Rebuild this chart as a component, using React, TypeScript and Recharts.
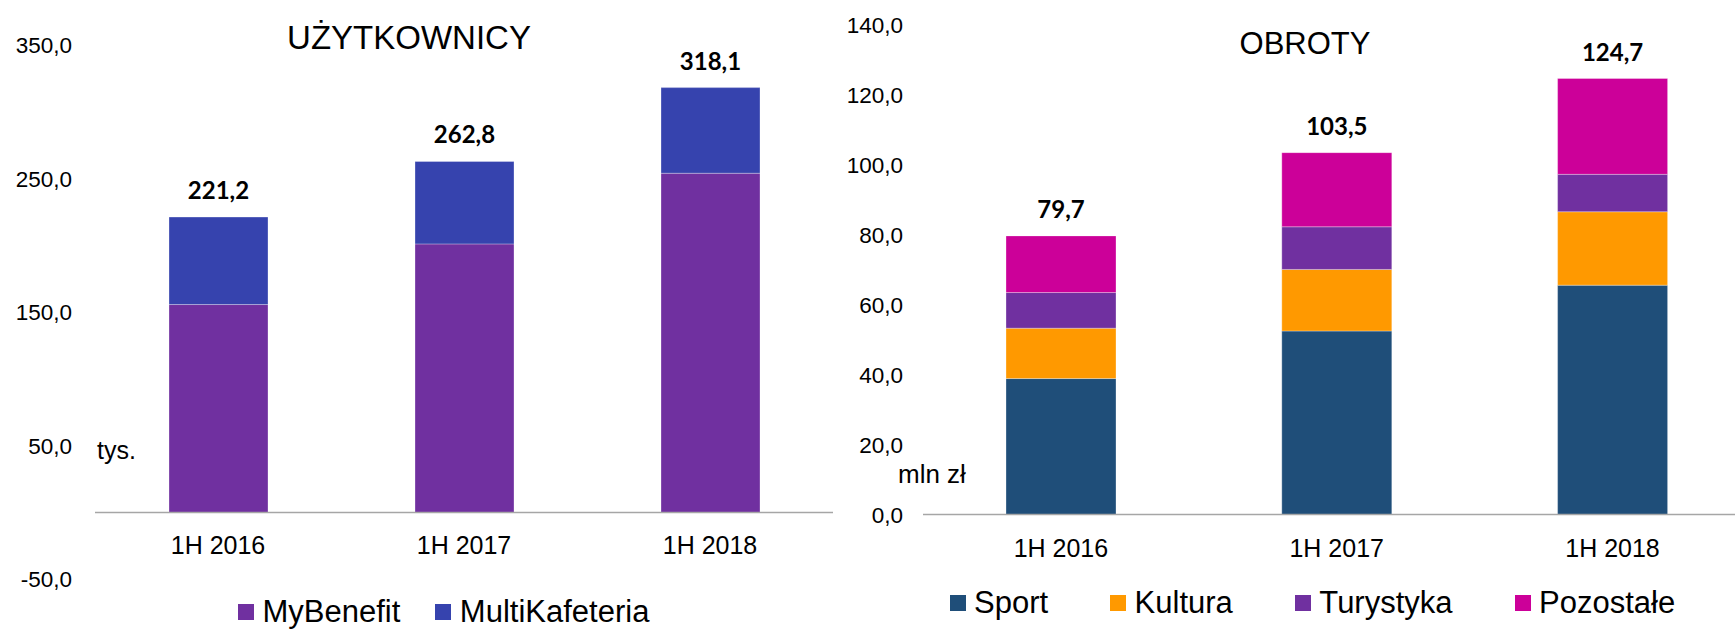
import React from 'react';
import { BarChart, Bar, XAxis, YAxis, ReferenceLine, LabelList, Legend } from 'recharts';

const categories = ['1H 2016', '1H 2017', '1H 2018'];

// Left chart: UŻYTKOWNICY (tys.)
const myBenefit = [155.7, 201.1, 254.0];
const multiKafeteria = [65.5, 61.7, 64.1];
const usersTotals = [221.2, 262.8, 318.1];
const usersTicks = [-50, 50, 150, 250, 350];

// Right chart: OBROTY (mln zł)
const sport = [38.9, 52.5, 65.6];
const kultura = [14.4, 17.6, 21.0];
const turystyka = [10.2, 12.2, 10.7];
const pozostale = [16.2, 21.2, 27.4];
const turnoverTotals = [79.7, 103.5, 124.7];
const turnoverTicks = [0, 20, 40, 60, 80, 100, 120, 140];

const usersSeries = [
  { key: 'MyBenefit', values: myBenefit, color: '#7030A0' },
  { key: 'MultiKafeteria', values: multiKafeteria, color: '#3643AE' },
];
const turnoverSeries = [
  { key: 'Sport', values: sport, color: '#1F4E79' },
  { key: 'Kultura', values: kultura, color: '#FF9900' },
  { key: 'Turystyka', values: turystyka, color: '#7030A0' },
  { key: 'Pozostałe', values: pozostale, color: '#CC0099' },
];

const usersData = categories.map((c, i) => {
  const row: any = { name: c, total: usersTotals[i] };
  usersSeries.forEach((s) => (row[s.key] = s.values[i]));
  return row;
});
const turnoverData = categories.map((c, i) => {
  const row: any = { name: c, total: turnoverTotals[i] };
  turnoverSeries.forEach((s) => (row[s.key] = s.values[i]));
  return row;
});

const fmt = (v: any) => Number(v).toFixed(1).replace('.', ',');
const SANS = '"Liberation Sans", Arial, sans-serif';

const makeLegend = (series: { key: string; color: string }[], gap: number) => () => (
  <div style={{ display: 'flex', alignItems: 'center', fontFamily: SANS, fontSize: 31, lineHeight: '31px', color: '#000', whiteSpace: 'nowrap' }}>
    {series.map((s, i) => (
      <div key={s.key} style={{ display: 'flex', alignItems: 'center', marginRight: i < series.length - 1 ? gap : 0 }}>
        <span style={{ display: 'inline-block', width: 16, height: 16, background: s.color, marginRight: 8.5, marginTop: 2 }} />
        <span>{s.key}</span>
      </div>
    ))}
  </div>
);

const textStyle = (left: number, top: number, size: number, extra: any = {}) => ({
  position: 'absolute' as const,
  left,
  top,
  fontFamily: SANS,
  fontSize: size,
  lineHeight: 1,
  color: '#000',
  whiteSpace: 'nowrap' as const,
  ...extra,
});

export default function App() {
  return (
    <div style={{ position: 'absolute', left: 0, top: 0, width: 1735, height: 629, overflow: 'hidden', background: '#fff' }}>
      <div style={{ position: 'absolute', left: 0, top: 0 }}>
        <BarChart width={840} height={629} data={usersData} margin={{ top: 45, right: 7, bottom: 19.7, left: 0 }}>
          <YAxis
            type="number"
            domain={[-50, 350]}
            ticks={usersTicks}
            interval={0}
            width={95}
            axisLine={false}
            tickLine={false}
            tickSize={0}
            tickMargin={23}
            tickFormatter={fmt}
            tick={{ fill: '#000', fontSize: 22.5, fontFamily: SANS }}
          />
          <XAxis
            dataKey="name"
            height={30}
            axisLine={false}
            tickLine={false}
            tickSize={0}
            tickMargin={0}
            interval={0}
            tick={{ fill: '#000', fontSize: 25, fontFamily: SANS, dy: -42.6 }}
          />
          <ReferenceLine y={0} stroke="#A6A6A6" strokeWidth={1.5} />
          {usersSeries.map((s, i) => (
            <Bar key={s.key} dataKey={s.key} stackId="a" fill={s.color} barSize={99} isAnimationActive={false} stroke="rgba(255,255,255,0.3)" strokeWidth={1}>
              {i === usersSeries.length - 1 && (
                <LabelList dataKey="total" position="top" offset={18} formatter={fmt} fill="#000" fontSize={24} fontWeight={700} fontFamily="Lato, sans-serif" />
              )}
            </Bar>
          ))}
          <Legend
            layout="horizontal"
            verticalAlign="middle"
            align="center"
            content={makeLegend(usersSeries, 35)}
            wrapperStyle={{ left: 238, top: 595.5, width: 'auto', height: 'auto' }}
          />
        </BarChart>
      </div>

      <div style={{ position: 'absolute', left: 820, top: 0 }}>
        <BarChart width={940} height={629} data={turnoverData} margin={{ top: 25, right: 9.6, bottom: 84.4, left: 0 }}>
          <YAxis
            type="number"
            domain={[0, 140]}
            ticks={turnoverTicks}
            interval={0}
            width={103}
            axisLine={false}
            tickLine={false}
            tickSize={0}
            tickMargin={20}
            tickFormatter={fmt}
            tick={{ fill: '#000', fontSize: 22.5, fontFamily: SANS }}
          />
          <XAxis
            dataKey="name"
            height={30}
            axisLine={{ stroke: '#A6A6A6', strokeWidth: 1.5 }}
            tickLine={false}
            tickSize={0}
            tickMargin={24.4}
            interval={0}
            tick={{ fill: '#000', fontSize: 25, fontFamily: SANS }}
          />
          {turnoverSeries.map((s, i) => (
            <Bar key={s.key} dataKey={s.key} stackId="a" fill={s.color} barSize={110} isAnimationActive={false} stroke="rgba(255,255,255,0.3)" strokeWidth={1}>
              {i === turnoverSeries.length - 1 && (
                <LabelList dataKey="total" position="top" offset={18} formatter={fmt} fill="#000" fontSize={24} fontWeight={700} fontFamily="Lato, sans-serif" />
              )}
            </Bar>
          ))}
          <Legend
            layout="horizontal"
            verticalAlign="middle"
            align="center"
            content={makeLegend(turnoverSeries, 62)}
            wrapperStyle={{ left: 129.5, top: 586.5, width: 'auto', height: 'auto' }}
          />
        </BarChart>
      </div>

      <div style={textStyle(209, 21.4, 33, { width: 400, textAlign: 'center' })}>UŻYTKOWNICY</div>
      <div style={textStyle(1105, 27.8, 31, { width: 400, textAlign: 'center' })}>OBROTY</div>
      <div style={textStyle(97, 438, 25)}>tys.</div>
      <div style={textStyle(898, 460.7, 26)}>mln zł</div>
    </div>
  );
}
